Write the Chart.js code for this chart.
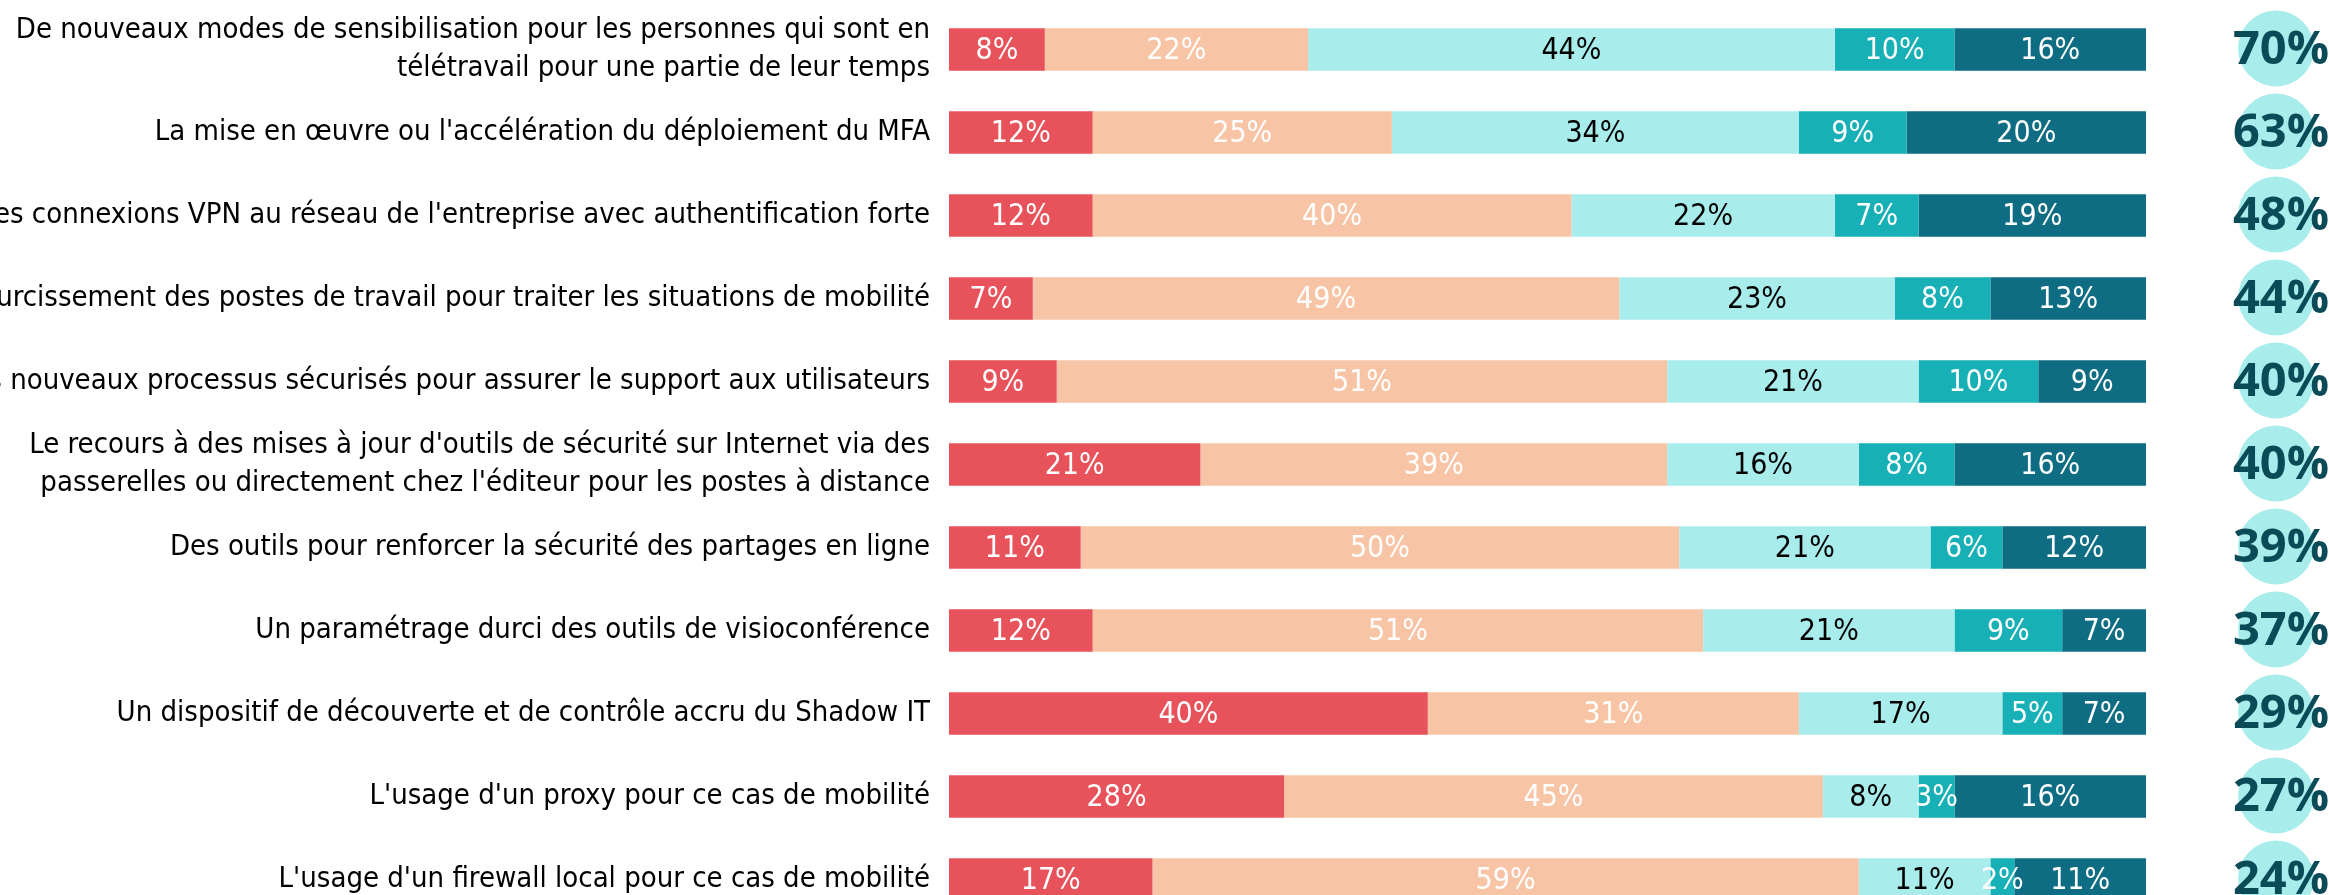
<!DOCTYPE html>
<html>
<head>
<meta charset="utf-8">
<script src="https://cdn.jsdelivr.net/npm/chart.js@4/dist/chart.umd.min.js"></script>
<style>
  html, body { margin: 0; padding: 0; background: #fff; overflow: hidden; }
  #wrap { width: 2329px; height: 930px; }
</style>
</head>
<body>
<div id="wrap"><canvas id="chart_mesures" width="2329" height="930"></canvas></div>
<script>
const categories = [
    ['De nouveaux modes de sensibilisation pour les personnes qui sont en', 'télétravail pour une partie de leur temps'],
    "La mise en œuvre ou l'accélération du déploiement du MFA",
    "Des connexions VPN au réseau de l'entreprise avec authentification forte",
    'Un durcissement des postes de travail pour traiter les situations de mobilité',
    'Des nouveaux processus sécurisés pour assurer le support aux utilisateurs',
    ["Le recours à des mises à jour d'outils de sécurité sur Internet via des", "passerelles ou directement chez l'éditeur pour les postes à distance"],
    'Des outils pour renforcer la sécurité des partages en ligne',
    'Un paramétrage durci des outils de visioconférence',
    'Un dispositif de découverte et de contrôle accru du Shadow IT',
    "L'usage d'un proxy pour ce cas de mobilité",
    "L'usage d'un firewall local pour ce cas de mobilité"
]

const serie1 = [8, 12, 12, 7, 9, 21, 11, 12, 40, 28, 17]
const serie2 = [22, 25, 40, 49, 51, 39, 50, 51, 31, 45, 59]
const serie3 = [44, 34, 22, 23, 21, 16, 21, 21, 17, 8, 11]
const serie4 = [10, 9, 7, 8, 10, 8, 6, 9, 5, 3, 2]
const serie5 = [16, 20, 19, 13, 9, 16, 12, 7, 7, 16, 11]
const totals = [70, 63, 48, 44, 40, 40, 39, 37, 29, 27, 24]

const colors = ['#E8525A', '#F7C4A5', '#A8EDEC', '#17B0B6', '#0E6D82']
const labelColors = ['#fff', '#fff', '#000', '#fff', '#fff']
const narrowFont = "'Liberation Sans Narrow', 'DejaVu Sans Condensed', sans-serif"

// valeurs au centre des segments
const segmentLabels = {
    id: 'segmentLabels',
    afterDatasetsDraw(chart) {
        const ctx = chart.ctx
        ctx.save()
        ctx.font = `30px ${narrowFont}`
        ctx.textAlign = 'center'
        ctx.textBaseline = 'middle'
        chart.data.datasets.forEach((ds, i) => {
            chart.getDatasetMeta(i).data.forEach((bar, j) => {
                const cx = (bar.x + bar.base) / 2
                ctx.fillStyle = labelColors[i]
                ctx.fillText(`${ds.data[j]}%`, cx, bar.y + 2)
            })
        })
        ctx.restore()
    }
}

// pastilles avec le total à droite
const totalBubbles = {
    id: 'totalBubbles',
    afterDraw(chart) {
        const ctx = chart.ctx
        const y = chart.scales.y
        const cx = chart.chartArea.right + 130
        ctx.save()
        totals.forEach((t, i) => {
            const cy = y.getPixelForValue(i) - 1
            ctx.beginPath()
            ctx.arc(cx, cy, 38, 0, Math.PI * 2)
            ctx.fillStyle = '#A8EDEC'
            ctx.fill()
            ctx.fillStyle = '#0B4A57'
            ctx.font = "bold 47px 'Open Sans', 'DejaVu Sans', sans-serif"
            ctx.textAlign = 'left'
            ctx.textBaseline = 'middle'
            ctx.fillText(`${t}%`, cx - 43, cy + 2)
        })
        ctx.restore()
    }
}

const data = {
    labels: categories,
    datasets: [serie1, serie2, serie3, serie4, serie5].map((s, i) => ({
        data: s,
        backgroundColor: colors[i],
        borderWidth: 0,
        barPercentage: 0.51,
        categoryPercentage: 1
    }))
}

const options = {
    responsive: false,
    animation: false,
    indexAxis: 'y',
    layout: { padding: { top: 8, bottom: 9, right: 183, left: 0 } },
    plugins: {
        legend: { display: false },
        tooltip: { enabled: false }
    },
    scales: {
        x: { stacked: true, min: 0, max: 100, display: false },
        y: {
            stacked: true,
            grid: { display: false },
            border: { display: false },
            afterFit: (scale) => {
                scale.width = 949
                scale.paddingTop = 0
                scale.paddingBottom = 0
            },
            ticks: {
                color: '#000',
                padding: 11,
                font: { family: narrowFont, size: 29, lineHeight: 1.28 }
            }
        }
    }
}

new Chart('chart_mesures', { type: 'bar', data, options, plugins: [segmentLabels, totalBubbles] })
</script>
</body>
</html>
